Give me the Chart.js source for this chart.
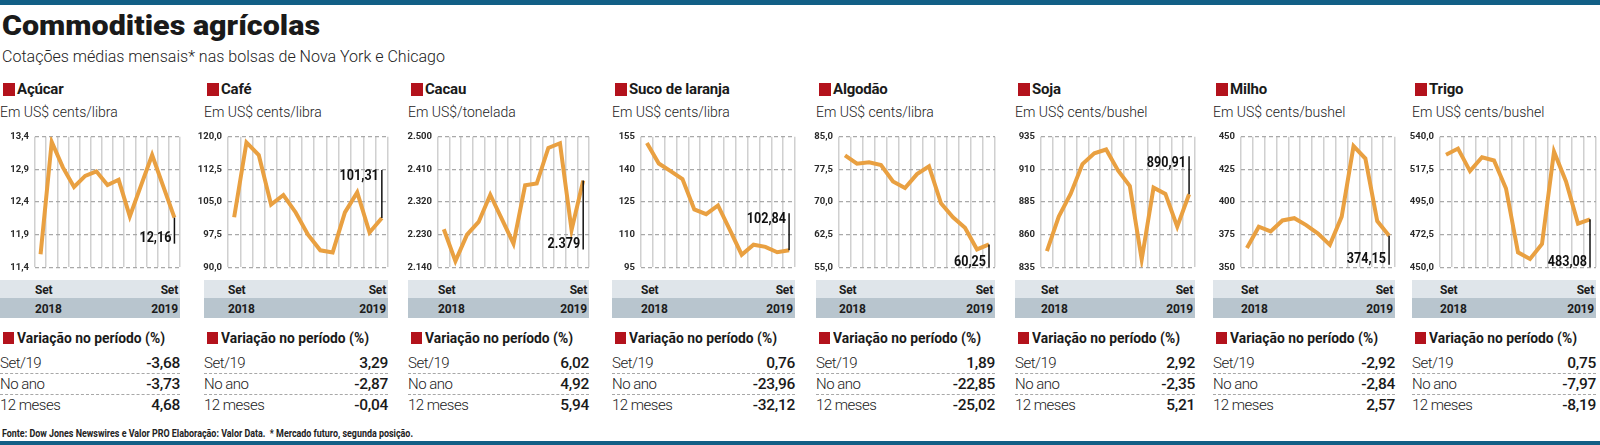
<!DOCTYPE html>
<html>
<head>
<meta charset="utf-8">
<script src="https://cdn.jsdelivr.net/npm/chart.js@4"></script>
<style>
  body { margin: 0; width: 1600px; height: 445px; overflow: hidden; background: #fff; position: relative; font-family: Roboto, sans-serif; color: #1a1a1a; }
  .abs { position: absolute; white-space: nowrap; transform-origin: 0 0; }
  .bar { position: absolute; left: 0; width: 1600px; background: #125f86; }
  .title { font-weight: 900; font-size: 28px; line-height: 28px; }
  .sub { font-weight: 300; font-size: 17px; line-height: 17px; color: #222; }
  .sq { position: absolute; background: #b3121c; }
  .pname { font-weight: 700; font-size: 15px; line-height: 15px; letter-spacing: -0.2px; }
  .unit { font-weight: 300; font-size: 14px; line-height: 14px; color: #222; }
  .band { position: absolute; font-weight: 700; font-size: 12px; line-height: 14px; letter-spacing: -0.2px; color: #1c1c1c; box-sizing: border-box; }
  .band span { position: absolute; }
  .vhead { font-weight: 700; font-size: 15px; line-height: 15px; }
  .row { position: absolute; box-sizing: border-box; height: 20px; }
  .row .lab { position: absolute; left: 0; top: 0; font-weight: 300; font-size: 15px; line-height: 18px; letter-spacing: -0.5px; color: #222; }
  .row .val { position: absolute; right: 0; top: 0; font-weight: 500; font-size: 15.5px; line-height: 18px; letter-spacing: -0.3px; color: #1a1a1a; }
  .dash { position: absolute; height: 0; border-top: 1px dashed #a8a8a8; }
  .foot { font-weight: 700; font-size: 10.5px; line-height: 11px; color: #222; }
</style>
</head>
<body>
<div class="bar" style="top:0;height:5px"></div>
<div class="abs title" id="title" style="left:2px;top:12px">Commodities agrícolas</div>
<div class="abs sub" id="sub" style="left:2px;top:48px">Cotações médias mensais* nas bolsas de Nova York e Chicago</div>
<div id="panels"></div>
<div class="abs foot" id="foot" style="left:2px;top:428px">Fonte: Dow Jones Newswires e Valor PRO Elaboração: Valor Data.&nbsp; * Mercado futuro, segunda posição.</div>
<div class="bar" style="top:441px;height:4px"></div>

<script>
// months, Set/2018 to Set/2019
const months = ['Set', 'Out', 'Nov', 'Dez', 'Jan', 'Fev', 'Mar', 'Abr', 'Mai', 'Jun', 'Jul', 'Ago', 'Set'];
const years = ['2018', '2019'];

const names = ['Açúcar', 'Café', 'Cacau', 'Suco de laranja', 'Algodão', 'Soja', 'Milho', 'Trigo'];
const units = ['Em US$ cents/libra', 'Em US$ cents/libra', 'Em US$/tonelada', 'Em US$ cents/libra',
               'Em US$ cents/libra', 'Em US$ cents/bushel', 'Em US$ cents/bushel', 'Em US$ cents/bushel'];

// monthly averages
const acucar = [11.60, 13.32, 12.93, 12.63, 12.80, 12.87, 12.66, 12.74, 12.18, 12.65, 13.12, 12.64, 12.16];
const cafe = [101.5, 118.7, 115.8, 104.4, 106.6, 102.6, 97.5, 93.9, 93.4, 102.6, 107.2, 98.0, 101.31];
const cacau = [2245, 2157, 2230, 2265, 2340, 2273, 2205, 2366, 2371, 2469, 2482, 2243, 2379];
const suco = [152.1, 142.7, 139.2, 135.5, 121.6, 119.4, 123.4, 112.2, 100.8, 105.4, 104.4, 101.9, 102.84];
const algodao = [80.7, 78.8, 79.1, 78.5, 74.7, 73.2, 76.4, 78.2, 69.7, 66.5, 64.1, 59.1, 60.25];
const soja = [847.4, 873.8, 891.2, 914.0, 922.3, 925.2, 909.2, 897.2, 841.0, 896.0, 891.2, 866.1, 890.91];
const milho = [364.8, 381.1, 377.5, 385.9, 387.6, 382.3, 375.8, 367.2, 388.8, 442.8, 433.3, 385.4, 374.15];
const trigo = [527.5, 531.8, 516.3, 525.8, 523.6, 504.3, 460.3, 455.8, 466.1, 529.7, 509.2, 480.1, 483.08];

// y axis tick labels
const acucarTicks = ['11,4', '11,9', '12,4', '12,9', '13,4'];
const cafeTicks = ['90,0', '97,5', '105,0', '112,5', '120,0'];
const cacauTicks = ['2.140', '2.230', '2.320', '2.410', '2.500'];
const sucoTicks = ['95', '110', '125', '140', '155'];
const algodaoTicks = ['55,0', '62,5', '70,0', '77,5', '85,0'];
const sojaTicks = ['835', '860', '885', '910', '935'];
const milhoTicks = ['350', '375', '400', '425', '450'];
const trigoTicks = ['450,0', '472,5', '495,0', '517,5', '540,0'];

const lastLabels = ['12,16', '101,31', '2.379', '102,84', '60,25', '890,91', '374,15', '483,08'];

// variação no período (%)
const varRows = ['Set/19', 'No ano', '12 meses'];
const varMes = [-3.68, 3.29, 6.02, 0.76, 1.89, 2.92, -2.92, 0.75];
const varAno = [-3.73, -2.87, 4.92, -23.96, -22.85, -2.35, -2.84, -7.97];
const var12m = [4.68, -0.04, 5.94, -32.12, -25.02, 5.21, 2.57, -8.19];

const series = [acucar, cafe, cacau, suco, algodao, soja, milho, trigo];
const ticks = [acucarTicks, cafeTicks, cacauTicks, sucoTicks, algodaoTicks, sojaTicks, milhoTicks, trigoTicks];

// layout: panel start, plot left, plot right, callout direction/length
const layout = [
  { x0: 0, L: 35, R: 180, dir: 1, len: 26 },
  { x0: 204, L: 228, R: 388, dir: -1, len: 48 },
  { x0: 408, L: 438, R: 589, dir: 1, len: 69 },
  { x0: 612, L: 641, R: 795, dir: -1, len: 37 },
  { x0: 816, L: 839, R: 995, dir: 1, len: 23 },
  { x0: 1015, L: 1041, R: 1195, dir: -1, len: 38 },
  { x0: 1213, L: 1241, R: 1395, dir: 1, len: 29 },
  { x0: 1412, L: 1440, R: 1596, dir: 1, len: 48 },
];

const parseTick = s => parseFloat(s.replace('.', '').replace(',', '.'));
const fmt = v => v.toFixed(2).replace('.', ',');

// squeeze a text block horizontally to the width it has in the print
function fitWidth(el, target) {
  const w = el.getBoundingClientRect().width;
  el.style.transform = `scaleX(${target / w})`;
}

const calloutPlugin = {
  id: 'callout',
  afterDatasetsDraw(chart, args, opts) {
    const pts = chart.getDatasetMeta(0).data;
    const p = pts[pts.length - 1];
    const ctx = chart.ctx;
    const y2 = p.y + opts.dir * opts.len;
    ctx.save();
    ctx.strokeStyle = '#111';
    ctx.lineWidth = 1.5;
    ctx.beginPath();
    ctx.moveTo(p.x, p.y);
    ctx.lineTo(p.x, y2);
    ctx.stroke();
    ctx.font = "bold 15px Roboto, sans-serif";
    ctx.fillStyle = '#111';
    ctx.textAlign = 'right';
    ctx.textBaseline = opts.dir > 0 ? 'bottom' : 'top';
    ctx.translate(p.x - 3, y2 + (opts.dir > 0 ? 2 : -1));
    ctx.scale(0.84, 1);
    ctx.fillText(opts.text, 0, 0);
    ctx.restore();
  }
};

const host = document.getElementById('panels');

function add(html) {
  host.insertAdjacentHTML('beforeend', html);
}

layout.forEach((lay, i) => {
  const { x0, L, R } = lay;
  const w = R - x0;

  add(`<div class="sq" style="left:${x0 + 3}px;top:83px;width:12px;height:13px"></div>`);
  add(`<div class="abs pname" style="left:${x0 + 17}px;top:82px">${names[i]}</div>`);
  add(`<div class="abs unit" style="left:${x0}px;top:105px">${units[i]}</div>`);

  // month / year bands
  add(`<div class="band" style="left:${x0}px;top:280px;width:${w}px;height:18px;background:#dfe5ea">
         <span style="left:${L - x0}px;top:3px">${months[0]}</span>
         <span style="right:2px;top:3px">${months[months.length - 1]}</span></div>`);
  add(`<div class="band" style="left:${x0}px;top:298px;width:${w}px;height:20px;background:#b8c5ce">
         <span style="left:${L - x0}px;top:4px">${years[0]}</span>
         <span style="right:2px;top:4px">${years[1]}</span></div>`);

  // variation table
  add(`<div class="sq" style="left:${x0 + 3}px;top:332px;width:11px;height:12px"></div>`);
  add(`<div class="abs vhead" data-fit="148" style="left:${x0 + 17}px;top:331px">Variação no período (%)</div>`);
  const vals = [varMes[i], varAno[i], var12m[i]];
  varRows.forEach((r, k) => {
    add(`<div class="row" style="left:${x0}px;top:${354 + k * 21}px;width:${w}px">
           <span class="lab">${r}</span><span class="val">${fmt(vals[k])}</span></div>`);
  });
  add(`<div class="dash" style="left:${x0}px;top:373px;width:${w}px"></div>`);
  add(`<div class="dash" style="left:${x0}px;top:394px;width:${w}px"></div>`);

  // chart canvas
  const cLeft = x0 - 12;
  const cW = R - cLeft + 3;
  const cH = 154;
  const box = document.createElement('div');
  box.style.cssText = `position:absolute;left:${cLeft}px;top:125px;width:${cW}px;height:${cH}px`;
  const canvas = document.createElement('canvas');
  canvas.width = cW;
  canvas.height = cH;
  canvas.style.width = cW + 'px';
  canvas.style.height = cH + 'px';
  box.appendChild(canvas);
  host.appendChild(box);

  const tickVals = ticks[i].map(parseTick);
  const axisW = L - cLeft;

  new Chart(canvas.getContext('2d'), {
    type: 'line',
    data: {
      labels: months,
      datasets: [{
        data: series[i],
        borderColor: '#e9a041',
        borderWidth: 4,
        pointRadius: 0,
        tension: 0,
        fill: false,
      }],
    },
    options: {
      responsive: false,
      animation: false,
      events: [],
      layout: { padding: { top: 9, bottom: 6, left: 0, right: 3 } },
      plugins: {
        legend: { display: false },
        tooltip: { enabled: false },
        callout: { dir: lay.dir, len: lay.len, text: lastLabels[i] },
      },
      scales: {
        x: {
          offset: true,
          grid: { offset: true, color: '#d0d0d0', lineWidth: 1.5, drawTicks: false },
          border: { display: false },
          ticks: { display: false },
        },
        y: {
          min: tickVals[0],
          max: tickVals[tickVals.length - 1],
          afterBuildTicks: scale => { scale.ticks = tickVals.map(v => ({ value: v })); },
          afterFit: scale => { scale.width = axisW; },
          grid: { color: '#a9a9a9', lineWidth: 1.2, drawTicks: false },
          border: { display: false, dash: [4, 3] },
          ticks: {
            padding: 6,
            color: '#2a2a2a',
            font: { family: 'Roboto', weight: 'bold', size: 9.5 },
            callback: (v, idx) => ticks[i][idx],
          },
        },
      },
    },
    plugins: [calloutPlugin],
  });
});

fitWidth(document.getElementById('title'), 318);
fitWidth(document.getElementById('sub'), 443);
fitWidth(document.getElementById('foot'), 411);
document.querySelectorAll('[data-fit]').forEach(el => fitWidth(el, +el.dataset.fit));
</script>
</body>
</html>
